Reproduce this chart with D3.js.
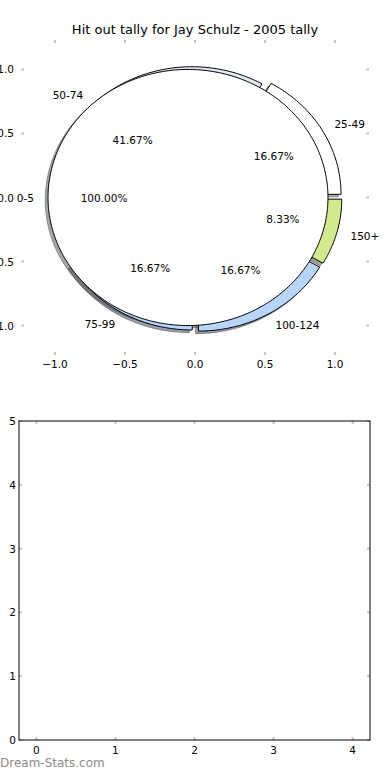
<!DOCTYPE html>
<html>
<head>
<meta charset="utf-8">
<script src="https://cdn.jsdelivr.net/npm/d3@7"></script>
<style>
  body { margin: 0; background: #fff; }
  text { font-family: "DejaVu Sans", sans-serif; fill: #000; }
</style>
</head>
<body>
<script>
// chart data
var sliceLabels = ["25-49", "50-74", "75-99", "100-124", "150+"];
var sliceCounts = [2, 5, 2, 2, 1];
var sliceExplode = [0.05, 0.03, 0.04, 0.05, 0.05];
var sliceColors = ["#ffffff", "#e3e8f7", "#b8d5fb", "#b8d5fb", "#d2ea8e"];

var coverLabels = ["0-5"];
var coverCounts = [1];
var coverExplode = [0.05];
var coverColors = ["#ffffff"];

var pieTicks = [-1.0, -0.5, 0.0, 0.5, 1.0];
var barXTicks = [0, 1, 2, 3, 4];
var barYTicks = [0, 1, 2, 3, 4, 5];

var titleText = "Hit out tally for Jay Schulz - 2005 tally";

var W = 390, H = 780;
var fs = "10.5px";
var svg = d3.select("body").append("svg")
	.attr("width", W)
	.attr("height", H);

svg.append("rect").attr("width", W).attr("height", H).attr("fill", "#fff");

// ---------- top: pie ----------
var pL = 21, pR = 369, pT = 40, pB = 355;
var px = d3.scaleLinear().domain([-1.243, 1.243]).range([pL, pR]);
var py = d3.scaleLinear().domain([-1.23, 1.23]).range([pB, pT]);

svg.append("text")
	.attr("x", (pL + pR) / 2)
	.attr("y", 34)
	.attr("text-anchor", "middle")
	.style("font-size", "13px")
	.text(titleText);

var tickGrey = "#c4c4c4";
var fmt1 = d3.format(".1f");

// tick marks on all four sides, no frame
pieTicks.forEach(function(t){
	svg.append("line").attr("x1", px(t)).attr("x2", px(t)).attr("y1", pT).attr("y2", pT + 3)
		.attr("stroke", tickGrey).attr("stroke-width", 2);
	svg.append("line").attr("x1", px(t)).attr("x2", px(t)).attr("y1", pB).attr("y2", pB - 3)
		.attr("stroke", tickGrey).attr("stroke-width", 2);
	svg.append("line").attr("x1", pL).attr("x2", pL + 3).attr("y1", py(t)).attr("y2", py(t))
		.attr("stroke", tickGrey).attr("stroke-width", 2);
	svg.append("line").attr("x1", pR).attr("x2", pR - 3).attr("y1", py(t)).attr("y2", py(t))
		.attr("stroke", tickGrey).attr("stroke-width", 2);

	svg.append("text")
		.attr("x", px(t))
		.attr("y", pB + 9)
		.attr("dominant-baseline", "central")
		.attr("text-anchor", "middle")
		.style("font-size", fs)
		.text(fmt1(t));
	svg.append("text")
		.attr("x", pL - 7)
		.attr("y", py(t))
		.attr("dominant-baseline", "central")
		.attr("text-anchor", "end")
		.style("font-size", fs)
		.text(fmt1(t));
});

var pie = d3.pie().sort(null).startAngle(0).endAngle(2 * Math.PI);
var line = d3.line().x(function(d){ return px(d[0]); }).y(function(d){ return py(d[1]); });

// angles counter-clockwise from east, like the original
var wedgePts = function(cx, cy, a0, a1){
	var pts = [];
	var full = (a1 - a0) > 2 * Math.PI - 1e-9;
	if(!full) pts.push([cx, cy]);
	var n = Math.max(8, Math.ceil((a1 - a0) / (Math.PI / 180)));
	for(var i = 0; i <= n; i++){
		var a = a0 + (a1 - a0) * i / n;
		pts.push([cx + Math.cos(a), cy + Math.sin(a)]);
	}
	return pts;
};

var makeSlices = function(counts, labels, explode, colors){
	var arcs = pie(counts);
	var total = d3.sum(counts);
	return arcs.map(function(a, i){
		var mid = (a.startAngle + a.endAngle) / 2;
		var cx = explode[i] * Math.cos(mid), cy = explode[i] * Math.sin(mid);
		return {
			pts: wedgePts(cx, cy, a.startAngle, a.endAngle),
			cx: cx, cy: cy, mid: mid,
			label: labels[i],
			pct: d3.format(".2f")(100 * counts[i] / total) + "%",
			color: colors[i]
		};
	});
};

var slices = makeSlices(sliceCounts, sliceLabels, sliceExplode, sliceColors);
var cover = makeSlices(coverCounts, coverLabels, coverExplode, coverColors);
var all = slices.concat(cover);

var shadowOf = function(c){
	var r = d3.rgb(c);
	return "rgba(" + Math.round(r.r * 0.3) + "," + Math.round(r.g * 0.3) + "," + Math.round(r.b * 0.3) + ",0.5)";
};

// shadows first (below every wedge)
var shadowLine = d3.line()
	.x(function(d){ return px(d[0] - 0.02); })
	.y(function(d){ return py(d[1] - 0.02); });
all.forEach(function(s){
	svg.append("path")
		.attr("d", shadowLine(s.pts) + "Z")
		.attr("fill", shadowOf(s.color))
		.attr("stroke", shadowOf(s.color))
		.attr("stroke-width", 1);
});

all.forEach(function(s){
	svg.append("path")
		.attr("d", line(s.pts) + "Z")
		.attr("fill", s.color)
		.attr("stroke", "#000")
		.attr("stroke-width", 1)
		.attr("stroke-linejoin", "miter");
});

all.forEach(function(s){
	var lx = s.cx + 1.1 * Math.cos(s.mid);
	var ly = s.cy + 1.1 * Math.sin(s.mid);
	svg.append("text")
		.attr("x", px(lx))
		.attr("y", py(ly))
		.attr("dominant-baseline", "central")
		.attr("text-anchor", lx < 0 ? "end" : "start")
		.style("font-size", fs)
		.text(s.label);
	var tx = s.cx + 0.6 * Math.cos(s.mid);
	var ty = s.cy + 0.6 * Math.sin(s.mid);
	svg.append("text")
		.attr("x", px(tx))
		.attr("y", py(ty))
		.attr("dominant-baseline", "central")
		.attr("text-anchor", "middle")
		.style("font-size", fs)
		.text(s.pct);
});

// ---------- bottom: empty axes ----------
var bL = 19, bR = 370, bT = 421, bB = 740;
var bx = d3.scaleLinear().domain([-0.22, 4.22]).range([bL, bR]);
var by = d3.scaleLinear().domain([0, 5]).range([bB, bT]);

barXTicks.forEach(function(t){
	svg.append("line").attr("x1", bx(t)).attr("x2", bx(t)).attr("y1", bB).attr("y2", bB - 3)
		.attr("stroke", tickGrey).attr("stroke-width", 2);
	svg.append("line").attr("x1", bx(t)).attr("x2", bx(t)).attr("y1", bT).attr("y2", bT + 3)
		.attr("stroke", tickGrey).attr("stroke-width", 2);
	svg.append("text")
		.attr("x", bx(t))
		.attr("y", bB + 10)
		.attr("dominant-baseline", "central")
		.attr("text-anchor", "middle")
		.style("font-size", fs)
		.text(t);
});
barYTicks.forEach(function(t){
	svg.append("line").attr("x1", bL).attr("x2", bL + 3).attr("y1", by(t)).attr("y2", by(t))
		.attr("stroke", tickGrey).attr("stroke-width", 2);
	svg.append("line").attr("x1", bR).attr("x2", bR - 3).attr("y1", by(t)).attr("y2", by(t))
		.attr("stroke", tickGrey).attr("stroke-width", 2);
	svg.append("text")
		.attr("x", bL - 3)
		.attr("y", by(t))
		.attr("dominant-baseline", "central")
		.attr("text-anchor", "end")
		.style("font-size", fs)
		.text(t);
});

svg.append("rect")
	.attr("x", bL).attr("y", bT)
	.attr("width", bR - bL).attr("height", bB - bT)
	.attr("fill", "none")
	.attr("stroke", "#000")
	.attr("stroke-width", 1);

svg.append("text")
	.attr("x", 0)
	.attr("y", 767)
	.style("font-size", "12px")
	.style("fill", "#8c8c8c")
	.text("Dream-Stats.com");
</script>
</body>
</html>
